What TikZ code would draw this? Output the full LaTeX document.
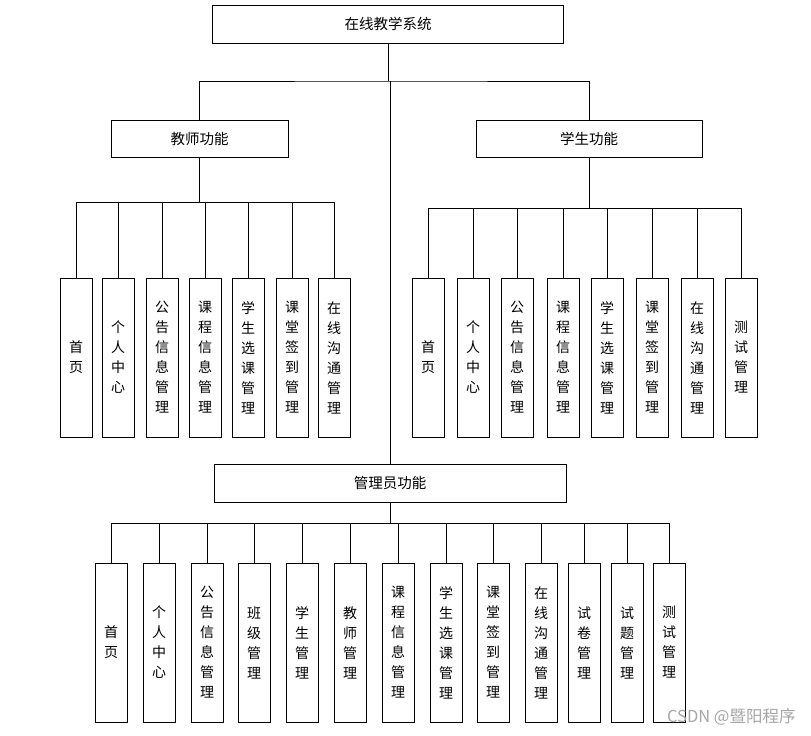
\documentclass[tikz,border=0pt]{standalone}
\usepackage{fontspec}
\newfontfamily\cjk{Noto Sans CJK SC}
\begin{document}
\begin{tikzpicture}[x=1pt,y=-1pt,
  line width=0.8pt,
  hbox/.style={draw, inner sep=0pt, minimum height=38pt, font=\cjk\fontsize{14.5}{18}\selectfont},
  vbox/.style={draw, inner sep=0pt, minimum width=32pt, minimum height=159pt, align=center, font=\cjk\fontsize{14}{20}\selectfont},
  conn/.style={draw, line width=0.8pt}]
\useasboundingbox (0,0) rectangle (811,736);
% main boxes
\node[hbox, minimum width=351pt] (root) at (388,24) {在线教学系统};
\node[hbox, minimum width=177pt, minimum height=37pt] (teacher) at (199.5,138.5) {教师功能};
\node[hbox, minimum width=226pt, minimum height=37pt] (student) at (589,138.5) {学生功能};
\node[hbox, minimum width=352pt] (admin) at (390,483) {管理员功能};
% top connectors
\coordinate (j0) at (388,81);
\draw[conn] (root.south) -- (j0);
\draw[conn] (teacher.north) |- (j0) -| (student.north);
\draw[conn] (admin.north) -- (admin.north |- j0);
% teacher children
\coordinate (tb) at (199.5,202);
\draw[conn] (teacher.south) -- (tb);
\foreach \x/\t [count=\i] in {76/{首\\页},118/{个\\人\\中\\心},162/{公\\告\\信\\息\\管\\理},205/{课\\程\\信\\息\\管\\理},248/{学\\生\\选\\课\\管\\理},292/{课\\堂\\签\\到\\管\\理},334/{在\\线\\沟\\通\\管\\理}}{
  \node[vbox] (t\i) at (\x,357.5) {\t};
  \draw[conn] (tb) -| (t\i.north);
}
% student children
\coordinate (sb) at (589,208);
\draw[conn] (student.south) -- (sb);
\foreach \x/\t [count=\i] in {428/{首\\页},473/{个\\人\\中\\心},517/{公\\告\\信\\息\\管\\理},563/{课\\程\\信\\息\\管\\理},607/{学\\生\\选\\课\\管\\理},652/{课\\堂\\签\\到\\管\\理},697/{在\\线\\沟\\通\\管\\理},741/{测\\试\\管\\理}}{
  \node[vbox] (s\i) at (\x,357.5) {\t};
  \draw[conn] (sb) -| (s\i.north);
}
% admin children
\coordinate (ab) at (390,523);
\draw[conn] (admin.south) -- (ab);
\foreach \x/\t [count=\i] in {111/{首\\页},159/{个\\人\\中\\心},207/{公\\告\\信\\息\\管\\理},254/{班\\级\\管\\理},302/{学\\生\\管\\理},350/{教\\师\\管\\理},398/{课\\程\\信\\息\\管\\理},446/{学\\生\\选\\课\\管\\理},493/{课\\堂\\签\\到\\管\\理},541/{在\\线\\沟\\通\\管\\理},584/{试\\卷\\管\\理},627/{试\\题\\管\\理},669/{测\\试\\管\\理}}{
  \node[vbox] (a\i) at (\x,642.5) {\t};
  \draw[conn] (ab) -| (a\i.north);
}
% watermark
\node[anchor=east, inner sep=0pt, text=black!35, font=\cjk\fontsize{16.5}{18}\selectfont] (wm) at (796,717) {CSDN @暨阳程序};
\end{tikzpicture}
\end{document}
